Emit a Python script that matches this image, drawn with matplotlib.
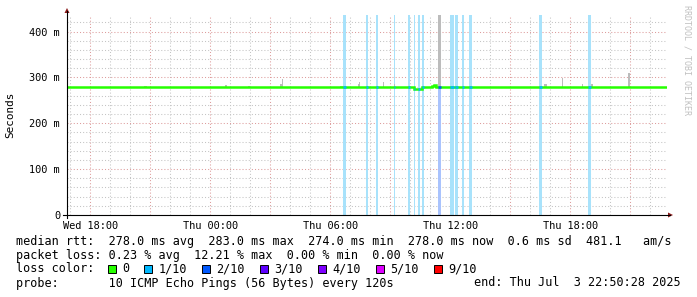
import matplotlib
matplotlib.use("Agg")
import matplotlib.pyplot as plt
import matplotlib.dates as mdates
from matplotlib.ticker import MultipleLocator, FuncFormatter
from matplotlib.transforms import IdentityTransform
from matplotlib.patches import Rectangle, Polygon
from matplotlib.lines import Line2D
from datetime import datetime, timedelta
import numpy as np

# ---------------- data ----------------
graph_start = "07-02 16:50:28"
graph_end = "07-03 22:50:28"

# median rtt, step series (ms)
median_edges = ["07-02 16:50:28", "07-03 10:11", "07-03 10:35", "07-03 11:05",
                "07-03 11:11", "07-03 11:17", "07-03 11:23", "07-03 11:35",
                "07-03 11:59", "07-03 22:50:28"]
median_ms = [278, 274, 278, 281, 283, 280, 279, 279.5, 278]

# packet loss events (start, minutes, lost pings of 10)
loss_start = ["07-03 06:39", "07-03 07:47", "07-03 08:17", "07-03 09:11",
              "07-03 09:54", "07-03 10:11", "07-03 10:24", "07-03 10:36",
              "07-03 11:24", "07-03 11:59", "07-03 12:14", "07-03 12:35",
              "07-03 12:57", "07-03 16:26", "07-03 18:53"]
loss_minutes = [9, 6, 6, 3, 6, 3, 6, 6, 9, 12, 9, 6, 9, 9, 9]
loss_level = [1, 1, 1, 1, 1, 1, 1, 1, 2, 1, 1, 1, 1, 1, 1]

# smoke (spread of pings) spikes: start, minutes, max ms
smoke_start = ["07-02 20:42", "07-03 00:43", "07-03 01:52", "07-03 03:30",
               "07-03 03:36", "07-03 06:30", "07-03 07:24", "07-03 07:27",
               "07-03 08:39", "07-03 09:11", "07-03 11:24", "07-03 13:37",
               "07-03 14:07", "07-03 16:41", "07-03 17:35", "07-03 18:35",
               "07-03 19:01", "07-03 20:54"]
smoke_minutes = [9, 6, 6, 6, 3, 9, 3, 3, 3, 3, 9, 6, 6, 9, 3, 3, 6, 6]
smoke_max_ms = [282, 283, 281, 286, 297, 281, 286, 291, 291, 285, 436, 280,
                280, 285, 299, 285, 285, 309]

y_tick_values = [0, 0.1, 0.2, 0.3, 0.4]
y_tick_labels = ["0", "100 m", "200 m", "300 m", "400 m"]

loss_names = ["0", "1/10", "2/10", "3/10", "4/10", "5/10", "9/10"]
loss_colors = ["#26ff00", "#00b8ff", "#0059ff", "#5e00ff", "#7e00ff", "#dd00ff", "#ff0000"]
loss_bg = {1: "#a8e2fb", 2: "#a9c3fd"}

legend_lines = [
    "median rtt:  278.0 ms avg  283.0 ms max  274.0 ms min  278.0 ms now  0.6 ms sd  481.1   am/s",
    "packet loss: 0.23 % avg  12.21 % max  0.00 % min  0.00 % now",
    "loss color:",
    "probe:       10 ICMP Echo Pings (56 Bytes) every 120s",
]
end_text = "end: Thu Jul  3 22:50:28 2025"


def T(s):
    fmt = "%m-%d %H:%M:%S" if s.count(":") == 2 else "%m-%d %H:%M"
    return datetime.strptime("2025-" + s, "%Y-" + fmt)


# ---------------- figure ----------------
W, H = 697, 297
fig = plt.figure(figsize=(W / 100, H / 100), dpi=100)
fig.patch.set_facecolor("white")
ax_l, ax_r, ax_top, ax_bot = 67, 667, 15, 215
ax = fig.add_axes([ax_l / W, (H - ax_bot) / H, (ax_r - ax_l) / W, (ax_bot - ax_top) / H])
ax.set_facecolor("white")
for s in ax.spines.values():
    s.set_visible(False)

t0, t1 = T(graph_start), T(graph_end)
ax.set_xlim(t0, t1)
ax.set_ylim(0, 0.436)

mono = "DejaVu Sans Mono"

# grid
ax.xaxis.set_major_locator(mdates.HourLocator(byhour=range(0, 24, 3)))
ax.xaxis.set_minor_locator(mdates.HourLocator())
ax.yaxis.set_major_locator(MultipleLocator(0.1))
ax.yaxis.set_minor_locator(MultipleLocator(0.02))
ax.set_axisbelow(True)
ax.grid(which="minor", color="#c4c4c4", linestyle=(0, (1, 2)), linewidth=0.75)
ax.grid(which="major", color="#dd9c9c", linestyle=(0, (1, 2)), linewidth=0.75)


def xfmt(v, pos):
    d = mdates.num2date(v)
    return d.strftime("%a %H:%M") if d.hour % 6 == 0 else ""


ax.xaxis.set_major_formatter(FuncFormatter(xfmt))
ax.set_yticks(y_tick_values)
ax.set_yticklabels(y_tick_labels)
ax.tick_params(which="both", length=0)
ax.tick_params(axis="y", pad=5)
ax.tick_params(axis="x", pad=4)
for lab in ax.get_xticklabels() + ax.get_yticklabels():
    lab.set_fontfamily(mono)
    lab.set_fontsize(7.4)

# loss background bars
for s, m, lv in zip(loss_start, loss_minutes, loss_level):
    a = T(s)
    ax.axvspan(a, a + timedelta(minutes=m), color=loss_bg[lv], lw=0, zorder=1)

# smoke
for s, m, mx in zip(smoke_start, smoke_minutes, smoke_max_ms):
    a = T(s)
    ax.bar(a, (mx - 277) / 1000.0, width=timedelta(minutes=m), bottom=0.277,
           align="edge", color="#bcbcbc", lw=0, zorder=2)

# median line
edges = mdates.date2num([T(e) for e in median_edges])
vals = np.array(median_ms) / 1000.0
ax.stairs(vals, edges, baseline=None, color=loss_colors[0], lw=1.8, zorder=3)

for s, m, lv in zip(loss_start, loss_minutes, loss_level):
    a = mdates.date2num(T(s))
    b = mdates.date2num(T(s) + timedelta(minutes=m))
    i = min(np.searchsorted(edges, (a + b) / 2) - 1, len(vals) - 1)
    ax.hlines(vals[i], a, b, color=loss_colors[lv], lw=1.8, zorder=4)

# axes lines and arrows (pixel coords)
I = IdentityTransform()
def py(y):
    return H - y
fig.add_artist(Line2D([ax_l, ax_l], [py(218), py(11)], color="black", lw=0.8, transform=I))
fig.add_artist(Line2D([63, 670], [py(ax_bot), py(ax_bot)], color="black", lw=0.8, transform=I))
fig.add_artist(Polygon([[ax_l - 2.5, py(13)], [ax_l + 2.5, py(13)], [ax_l, py(8)]],
                       closed=True, color="#8b1a1a", lw=0, transform=I))
fig.add_artist(Polygon([[668, py(ax_bot - 2.5)], [668, py(ax_bot + 2.5)], [673, py(ax_bot)]],
                       closed=True, color="#8b1a1a", lw=0, transform=I))

# axis label
fig.text(10, py(115), "Seconds", rotation=90, ha="center", va="center",
         fontfamily=mono, fontsize=7.9, transform=I)
# watermark
fig.text(687, py(60), "RRDTOOL / TOBI OETIKER", rotation=270, ha="center", va="center",
         fontfamily=mono, fontsize=6, color="#c0c0c0", transform=I)

# legend
cw = 7.08
x0 = 16
rows_y = [241, 255, 269, 283]
for txt, yy in zip(legend_lines, rows_y):
    fig.text(x0, py(yy), txt, ha="left", va="center", fontfamily=mono, fontsize=8.45, transform=I)
fig.text(x0 + 64.7 * cw, py(rows_y[3]), end_text, ha="left", va="center",
         fontfamily=mono, fontsize=8.45, transform=I)

label_cols = [15, 20.1, 28.3, 36.5, 44.7, 52.9, 61.1]
for name, col, c in zip(loss_names, label_cols, loss_colors):
    lx = x0 + col * cw
    bx = lx - 2.05 * cw
    fig.add_artist(Rectangle((bx, py(rows_y[2]) - 4), 8, 8, facecolor=c,
                             edgecolor="black", lw=0.7, transform=I))
    fig.text(lx, py(rows_y[2]), name, ha="left", va="center", fontfamily=mono,
             fontsize=8.45, transform=I)

fig.savefig("out.png", dpi=100, facecolor="white")
